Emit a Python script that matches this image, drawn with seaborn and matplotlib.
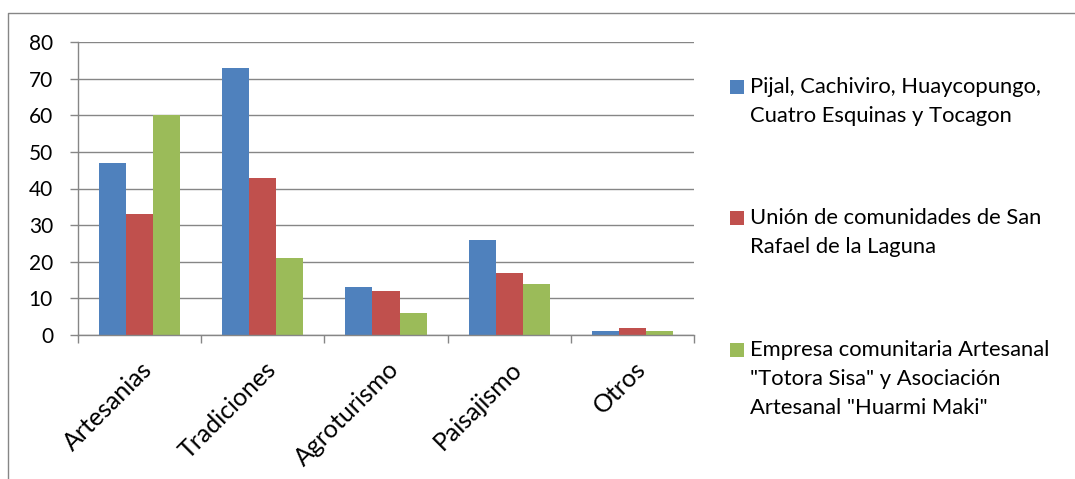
import matplotlib
matplotlib.use("Agg")
import matplotlib.pyplot as plt
import matplotlib.transforms as mtransforms
import seaborn as sns
import pandas as pd
import numpy as np
from matplotlib.lines import Line2D
from matplotlib.patches import Rectangle

# Data
categorias = ["Artesanias", "Tradiciones", "Agroturismo", "Paisajismo", "Otros"]
pijal = [47, 73, 13, 26, 1]
union_san_rafael = [33, 43, 12, 17, 2]
empresa_artesanal = [60, 21, 6, 14, 1]
series = [
    "Pijal, Cachiviro, Huaycopungo,\nCuatro Esquinas y Tocagon",
    "Unión de comunidades de San\nRafael de la Laguna",
    "Empresa comunitaria Artesanal\n\"Totora Sisa\" y Asociación\nArtesanal \"Huarmi Maki\"",
]
y_ticks = [0, 10, 20, 30, 40, 50, 60, 70, 80]
colores = ["#4F81BD", "#C0504D", "#9BBB59"]

df = pd.DataFrame({
    "categoria": categorias * 3,
    "serie": [series[0]] * 5 + [series[1]] * 5 + [series[2]] * 5,
    "valor": pijal + union_san_rafael + empresa_artesanal,
})

sns.set_theme(style="white")
plt.rcParams["font.family"] = ["Lato", "DejaVu Sans"]

W, H = 1075, 479
fig = plt.figure(figsize=(W / 100, H / 100), dpi=100)
ax = fig.add_axes([78 / W, 1 - 335 / H, (694 - 78) / W, (335 - 42) / H])

sns.barplot(data=df, x="categoria", y="valor", hue="serie", order=categorias,
            hue_order=series, palette=colores, width=0.66, saturation=1,
            legend=False, ax=ax, edgecolor="none", linewidth=0)

grid_c = "#868686"
ax.set_xlim(-0.5, len(categorias) - 0.5)
ax.set_ylim(0, 80)
ax.set_yticks(y_ticks)
ax.set_xlabel("")
ax.set_ylabel("")
ax.yaxis.grid(True, color=grid_c, linewidth=1)
ax.set_axisbelow(True)
for s in ["top", "right"]:
    ax.spines[s].set_visible(False)
for s in ["left", "bottom"]:
    ax.spines[s].set_color(grid_c)
    ax.spines[s].set_linewidth(1)

ax.tick_params(axis="y", left=True, length=6, width=1, color=grid_c,
               labelsize=15, pad=12, labelcolor="black")
ax.set_xticks(np.arange(-0.5, len(categorias), 1), minor=True)
ax.tick_params(axis="x", which="minor", bottom=True, length=6, width=1, color=grid_c)
ax.tick_params(axis="x", which="major", bottom=False, length=0, labelsize=18,
               pad=16, labelcolor="black")
shift = mtransforms.ScaledTranslation(1 / 100, 0, fig.dpi_scale_trans)
for lbl in ax.get_xticklabels():
    lbl.set_rotation(45)
    lbl.set_ha("right")
    lbl.set_va("top")
    lbl.set_rotation_mode("anchor")
    lbl.set_transform(lbl.get_transform() + shift)

# Outer chart frame
fig.add_artist(Line2D([8 / W, 8 / W, 1], [0, 1 - 12.5 / H, 1 - 12.5 / H],
                      transform=fig.transFigure, color=grid_c, linewidth=1))

# Legend
first_line_y = [87, 218, 350]
for label, color, y0 in zip(series, colores, first_line_y):
    fig.add_artist(Rectangle((730 / W, 1 - (y0 + 7) / H), 14 / W, 14 / H,
                             transform=fig.transFigure, color=color, linewidth=0))
    for i, line in enumerate(label.split("\n")):
        fig.text(750 / W, 1 - (y0 + i * 29) / H, line, fontsize=15.8,
                 va="center", ha="left", color="black")

fig.savefig("out.png", dpi=100)
